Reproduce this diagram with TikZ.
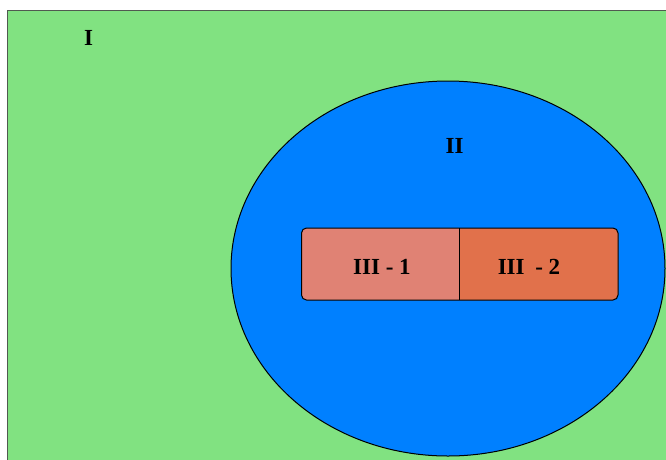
\documentclass[tikz,border=0pt]{standalone}
\usepackage{fontspec}
\setmainfont{Liberation Serif}
\definecolor{bggreen}{RGB}{129,226,129}
\definecolor{skyblue}{RGB}{0,128,255}
\definecolor{boxL}{RGB}{224,130,116}
\definecolor{boxR}{RGB}{225,113,75}
\definecolor{edgegray}{RGB}{80,90,80}
\begin{document}
\begin{tikzpicture}[x=1pt,y=-1pt,
  lab/.style={font=\fontsize{23}{26}\selectfont\bfseries, inner sep=0pt, anchor=base},
  thinline/.style={line width=1pt, draw=black}]
\useasboundingbox (0,0) rectangle (666,459);
\clip (0,0) rectangle (666,459);
\fill[white] (0,0) rectangle (666,459);
% region I
\draw[fill=bggreen, draw=edgegray, line width=1pt] (7.5,10.5) rectangle (690,480);
% region II
\draw[fill=skyblue, thinline] (448,268.5) ellipse [x radius=217, y radius=187.5];
% region III
\fill[boxL, rounded corners=5pt] (301.5,228) rectangle (618,300);
\begin{scope}
  \clip (459.5,0) rectangle (700,459);
  \fill[boxR, rounded corners=5pt] (301.5,228) rectangle (618,300);
\end{scope}
\draw[thinline, rounded corners=5pt] (301.5,228) rectangle (618,300);
\coordinate (dtop) at (459.5,228);
\coordinate (dbot) at (459.5,300);
\draw[thinline] (dtop) -- (dbot);
% labels
\node[lab] (l1) at (88.5,45) {I};
\node[lab] (l2) at (454.5,153) {II};
\node[lab] (l31) at (382,274.5) {III - 1};
\node[lab] (l32) at (529,274.5) {III\hspace{5pt} - 2};
\end{tikzpicture}
\end{document}
